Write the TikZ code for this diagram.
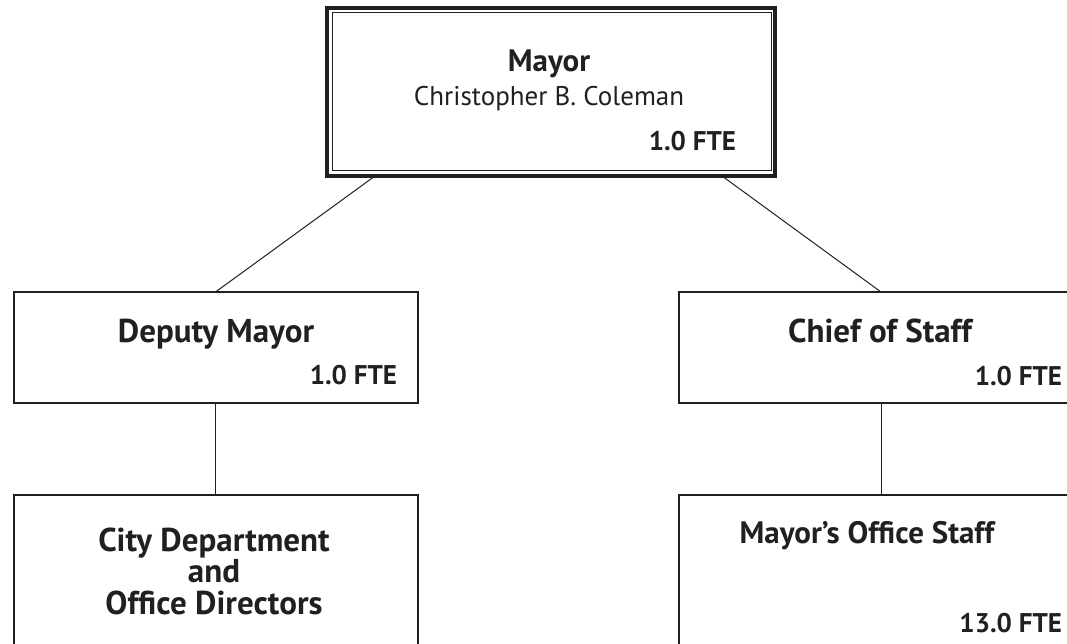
\documentclass[tikz,border=0pt]{standalone}
\usepackage{fontspec}
\setmainfont{PT Sans}
\usepackage{tikz}
\usetikzlibrary{positioning}
\definecolor{ink}{RGB}{35,31,32}

\begin{document}
\begin{tikzpicture}[x=1pt, y=-1pt,
  every node/.style={inner sep=0pt, outer sep=0pt, text=ink},
  box/.style={draw=ink, line width=2pt, minimum width=404pt},
  head/.style={font=\bfseries\fontsize{33}{31.5}\selectfont, anchor=base, align=center},
  sub/.style={font=\bfseries\fontsize{31}{33}\selectfont, anchor=base},
  who/.style={font=\fontsize{27}{29}\selectfont, anchor=base},
  fte/.style={font=\bfseries\fontsize{27}{29}\selectfont, anchor=base east},
  link/.style={draw=ink, line width=1pt}]
\useasboundingbox (0,0) rectangle (1067,644);
\clip (0,0) rectangle (1067,644);

\node[box, line width=4pt, minimum width=448pt, minimum height=168pt] (mayor) at (551,92) {};
\draw[ink, line width=1pt] ([shift={(5pt,-4.5pt)}]mayor.north west) rectangle ([shift={(-4pt,5pt)}]mayor.south east);
\node[sub] (mayorT) at (549,72) {Mayor};
\node[who] (mayorN) at (549,106) {Christopher B. Coleman};
\node[fte] (mayorF) at (736,151) {1.0 FTE};

\node[box, minimum height=111pt] (deputy) at (215.5,347.5) {};
\node[head] (deputyT) at (216,342) {Deputy Mayor};
\node[fte] (deputyF) at (397,384) {1.0 FTE};

\node[box, minimum height=111pt] (chief) at (881,347.5) {};
\node[head] (chiefT) at (880,342) {Chief of Staff};
\node[fte] (chiefF) at (1062,385) {1.0 FTE};

\node[box, minimum height=245pt] (city) at (215.5,617.5) {};
\node[head, anchor=center] (cityT) at (214,571) {City Department\\and\\Office Directors};

\node[box, minimum height=245pt] (staff) at (881,617.5) {};
\node[sub] (staffT) at (867,543) {Mayor’s Office Staff};
\node[fte] (staffF) at (1062,632) {13.0 FTE};

\draw[link] ([xshift=-176pt]mayor.south) -- (deputy.north);
\draw[link] ([xshift=171pt]mayor.south) -- (chief.north);
\draw[link] (deputy.south) -- (city.north);
\draw[link] (chief.south) -- (staff.north);
\end{tikzpicture}
\end{document}
